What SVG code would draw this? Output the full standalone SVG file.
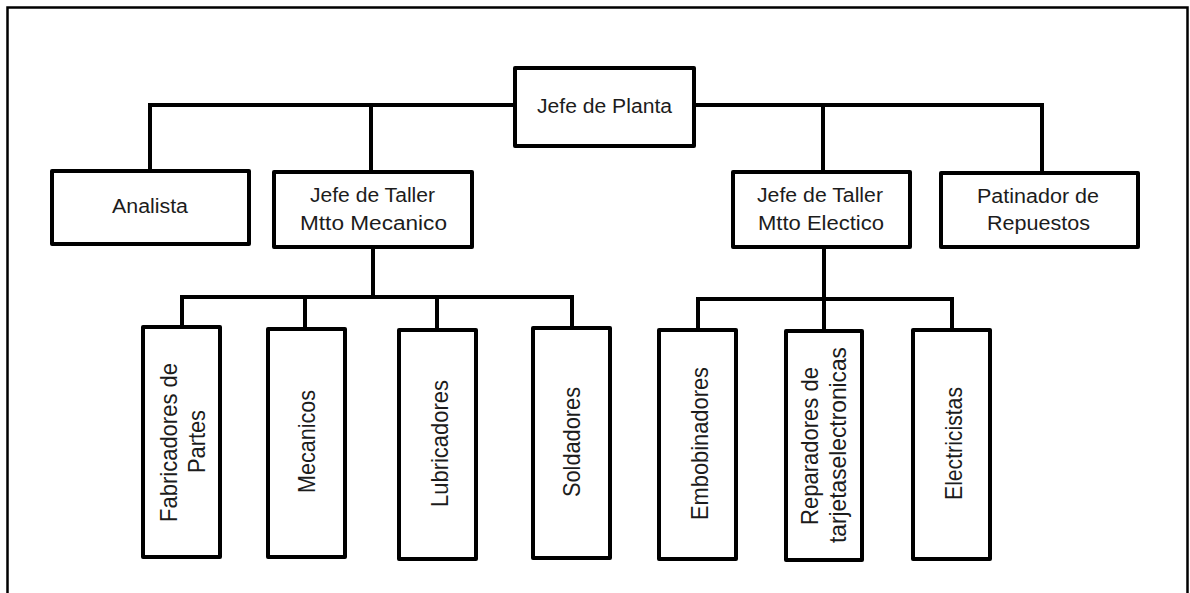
<svg xmlns="http://www.w3.org/2000/svg" width="1190" height="593" viewBox="0 0 1190 593">
<style>
.box{fill:#fff;stroke:#000;stroke-width:4;stroke-linejoin:round}
.ln{fill:none;stroke:#000;stroke-width:4;stroke-linecap:square}
.t{font-family:"Liberation Sans",Arial,sans-serif;font-size:19.5px;fill:#1c1c1c;text-anchor:middle}
</style>
<rect x="0" y="0" width="1190" height="593" fill="#fff"/>
<path d="M7.5 600 V7.5 H1187.5 V600" fill="none" stroke="#000" stroke-width="2.5"/>
<g id="connectors">
<path class="ln" d="M150 105 H1042"/>
<path class="ln" d="M150 105 V171"/>
<path class="ln" d="M371 105 V172"/>
<path class="ln" d="M823 105 V172"/>
<path class="ln" d="M1042 105 V173"/>
<path class="ln" d="M373 247 V297"/>
<path class="ln" d="M182 297 H572"/>
<path class="ln" d="M182 297 V327"/>
<path class="ln" d="M305 297 V329"/>
<path class="ln" d="M437 297 V330"/>
<path class="ln" d="M572 297 V328"/>
<path class="ln" d="M824 247 V331"/>
<path class="ln" d="M698 299 H952"/>
<path class="ln" d="M698 299 V330"/>
<path class="ln" d="M952 299 V330"/>
</g>
<g id="jefe-planta">
<rect class="box" x="515" y="68" width="179" height="78"/>
<text class="t" x="604.5" y="113" textLength="135" lengthAdjust="spacingAndGlyphs">Jefe de Planta</text>
</g>
<g id="analista">
<rect class="box" x="52" y="171" width="197" height="73"/>
<text class="t" x="150" y="213" textLength="76" lengthAdjust="spacingAndGlyphs">Analista</text>
</g>
<g id="taller-mecanico">
<rect class="box" x="274" y="172" width="198" height="75"/>
<text class="t" x="372.5" y="202" textLength="125" lengthAdjust="spacingAndGlyphs">Jefe de Taller</text>
<text class="t" x="373.5" y="230" textLength="147" lengthAdjust="spacingAndGlyphs">Mtto Mecanico</text>
</g>
<g id="taller-electrico">
<rect class="box" x="733" y="172" width="177" height="75"/>
<text class="t" x="820" y="202" textLength="126" lengthAdjust="spacingAndGlyphs">Jefe de Taller</text>
<text class="t" x="821" y="230" textLength="126" lengthAdjust="spacingAndGlyphs">Mtto Electico</text>
</g>
<g id="patinador">
<rect class="box" x="941" y="173" width="197" height="74"/>
<text class="t" x="1038" y="203" textLength="122" lengthAdjust="spacingAndGlyphs">Patinador de</text>
<text class="t" x="1038.5" y="230" textLength="103" lengthAdjust="spacingAndGlyphs">Repuestos</text>
</g>
<g id="fabricadores">
<rect class="box" x="143" y="327" width="77" height="230"/>
<text class="t" transform="translate(177 442.5) scale(1.2 1) rotate(-90)" textLength="159" lengthAdjust="spacingAndGlyphs">Fabricadores de</text>
<text class="t" transform="translate(205 441.5) scale(1.2 1) rotate(-90)" textLength="63" lengthAdjust="spacingAndGlyphs">Partes</text>
</g>
<g id="mecanicos">
<rect class="box" x="268" y="329" width="77" height="228"/>
<text class="t" transform="translate(315 441.5) scale(1.2 1) rotate(-90)" textLength="103" lengthAdjust="spacingAndGlyphs">Mecanicos</text>
</g>
<g id="lubricadores">
<rect class="box" x="399" y="330" width="77" height="229"/>
<text class="t" transform="translate(448 443.5) scale(1.2 1) rotate(-90)" textLength="127" lengthAdjust="spacingAndGlyphs">Lubricadores</text>
</g>
<g id="soldadores">
<rect class="box" x="533" y="328" width="77" height="230"/>
<text class="t" transform="translate(580 442) scale(1.2 1) rotate(-90)" textLength="110" lengthAdjust="spacingAndGlyphs">Soldadores</text>
</g>
<g id="embobinadores">
<rect class="box" x="659" y="330" width="77" height="229"/>
<text class="t" transform="translate(708 443.5) scale(1.2 1) rotate(-90)" textLength="153" lengthAdjust="spacingAndGlyphs">Embobinadores</text>
</g>
<g id="reparadores">
<rect class="box" x="786" y="331" width="76" height="229"/>
<text class="t" transform="translate(818 446) scale(1.2 1) rotate(-90)" textLength="158" lengthAdjust="spacingAndGlyphs">Reparadores de</text>
<text class="t" transform="translate(846 445) scale(1.2 1) rotate(-90)" textLength="196" lengthAdjust="spacingAndGlyphs">tarjetaselectronicas</text>
</g>
<g id="electricistas">
<rect class="box" x="913" y="330" width="77" height="229"/>
<text class="t" transform="translate(962 443.5) scale(1.2 1) rotate(-90)" textLength="113" lengthAdjust="spacingAndGlyphs">Electricistas</text>
</g>
</svg>
